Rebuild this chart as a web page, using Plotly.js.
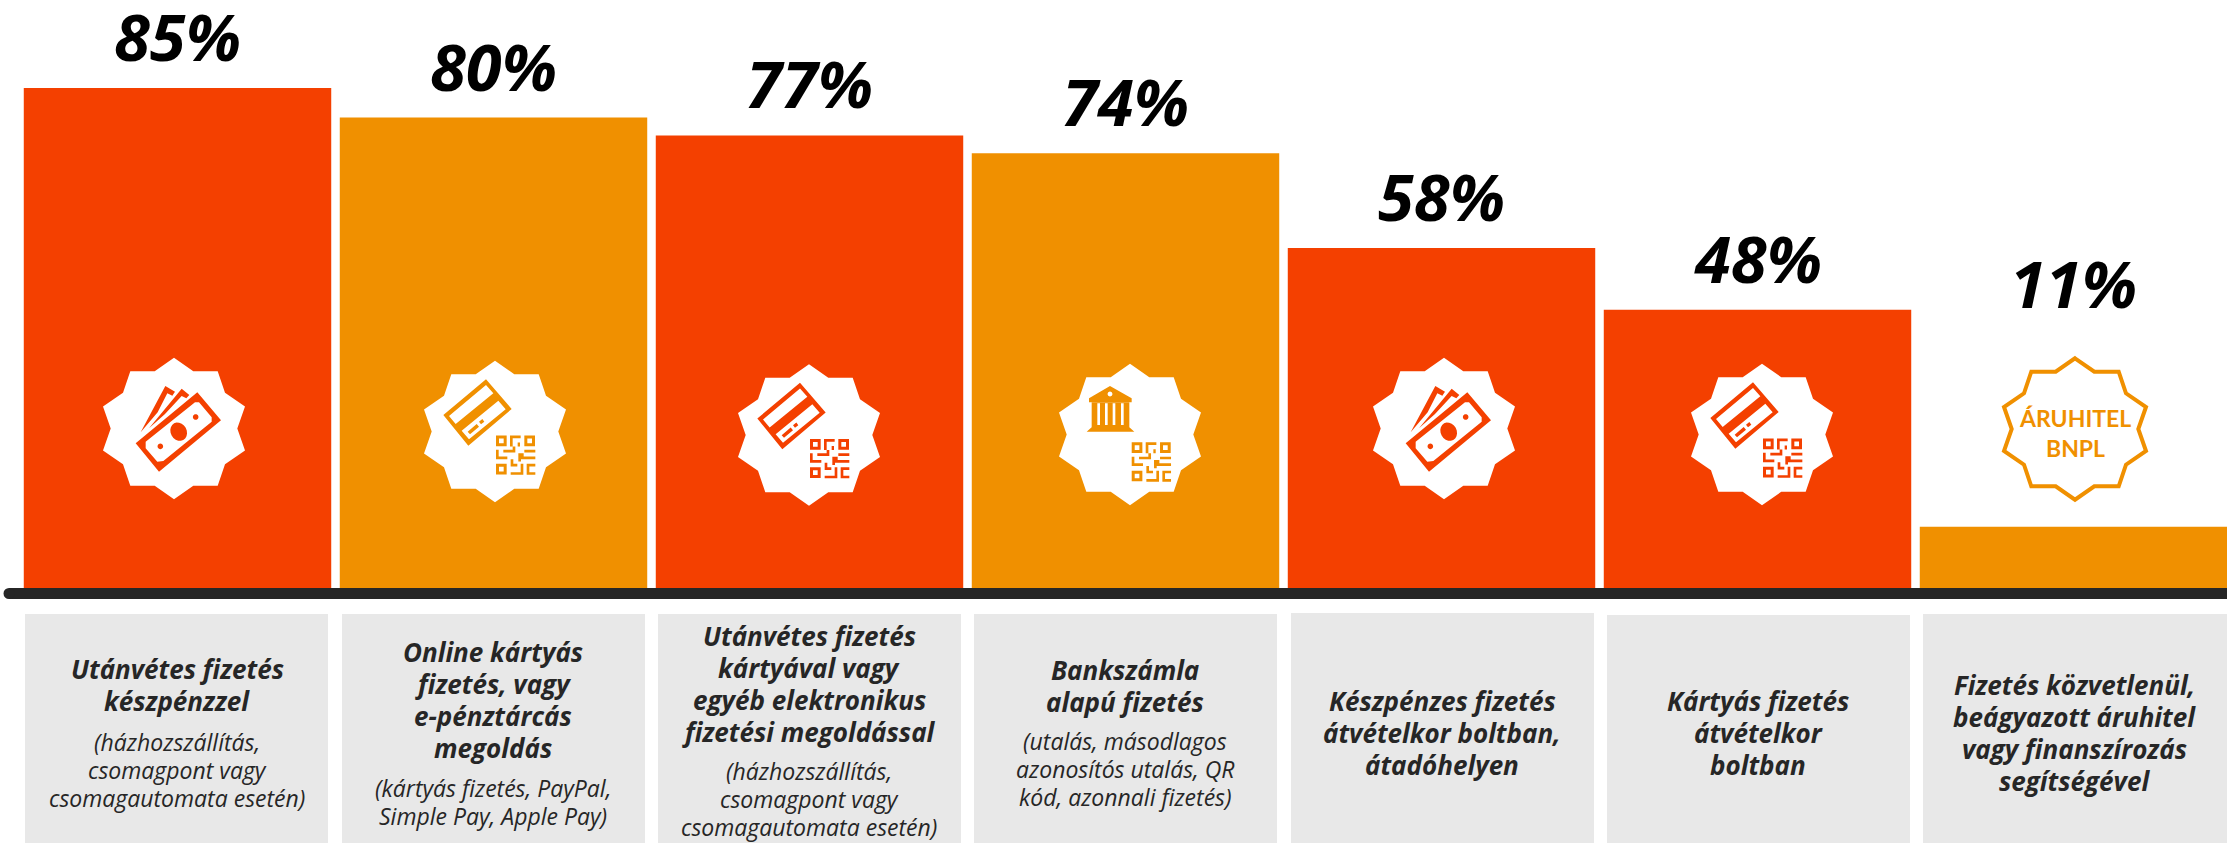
<!DOCTYPE html>
<html>
<head>
<meta charset="utf-8">
<script src="https://cdn.plot.ly/plotly-3.0.1.min.js"></script>
<style>html,body{margin:0;padding:0;background:#fff;overflow:hidden}</style>
</head>
<body>
<div id="chart" style="width:2227px;height:843px"></div>
<script>
// ---- data ----
const categories = ['Utánvétes készpénz','Online kártyás','Utánvétes kártyás','Bankszámla','Készpénzes boltban','Kártyás boltban','Áruhitel'];
const values = [85, 80, 77, 74, 58, 47.6, 11];
const valueLabels = ['85%','80%','77%','74%','58%','48%','11%'];
const mainLabels = [
  ['Utánvétes fizetés','készpénzzel'],
  ['Online kártyás','fizetés, vagy','e-pénztárcás','megoldás'],
  ['Utánvétes fizetés','kártyával vagy','egyéb elektronikus','fizetési megoldással'],
  ['Bankszámla','alapú fizetés'],
  ['Készpénzes fizetés','átvételkor boltban,','átadóhelyen'],
  ['Kártyás fizetés','átvételkor','boltban'],
  ['Fizetés közvetlenül,','beágyazott áruhitel','vagy finanszírozás','segítségével']
];
const subLabels = [
  ['(házhozszállítás,','csomagpont vagy','csomagautomata esetén)'],
  ['(kártyás fizetés, PayPal,','Simple Pay, Apple Pay)'],
  ['(házhozszállítás,','csomagpont vagy','csomagautomata esetén)'],
  ['(utalás, másodlagos','azonosítós utalás, QR','kód, azonnali fizetés)'],
  [], [], []
];
const barColors = ['#F44000','#F09000','#F44000','#F09000','#F44000','#F44000','#F09000'];
const badgeIcons = ['money','cardqr','cardqr','bankqr','money','cardqr','text'];
const badgeText = ['ÁRUHITEL','BNPL'];

// ---- layout constants (pixels) ----
const W = 2227, H = 843;
const zeroPx = 592, pxPerUnit = 5.93, firstCenter = 177.5, pitch = 316;
const mainY = [685, 700, 684, 685.5, 733, 733, 733];
const subY  = [770, 802, 799, 769, 0, 0, 0];
const mainPitch = 32, subPitch = 28;
const textX = [177, 493, 809, 1125, 1442, 1758, 2074];
const cardL = [25, 342, 658, 974, 1291, 1607, 1923];
const cardR = [328, 645, 961, 1277, 1594, 1910, 2227];
const cardT = [614, 614, 614, 614, 613, 615, 614];
const badgeX = [174, 495, 809, 1130, 1444, 1762, 2075];
const badgeY = [428.5, 431.5, 435, 434.5, 428.5, 434.5, 429];
const labelLift = [6, 6, 6, 6, 6, 6, 198];
const FONT = '"Open Sans", "Noto Sans", sans-serif';

const px = x => x / W, py = y => 1 - y / H;

// ---- icon geometry, in px relative to badge centre, y down ----
const star = [[0,-70.7],[19.3,-57.3],[43.7,-57.3],[51,-35.7],[71,-22],[63.3,0],[71,22],[51,35.7],[43.7,57.3],[19.3,57.3],[0,70.7],[-19.3,57.3],[-43.7,57.3],[-51,35.7],[-71,22],[-63.3,0],[-71,-22],[-51,-35.7],[-43.7,-57.3],[-19.3,-57.3]];
const poly = pts => 'M' + pts.map(p => p[0].toFixed(2) + ' ' + (-p[1]).toFixed(2)).join(' L') + ' Z ';
const rect = (x,y,w,h) => poly([[x,y],[x+w,y],[x+w,y+h],[x,y+h]]);
const ellipse = (cx,cy,rx,ry,rot=0) => {
  const pts=[]; for(let i=0;i<20;i++){const a=i/20*2*Math.PI,ex=rx*Math.cos(a),ey=ry*Math.sin(a);
    pts.push([cx+ex*Math.cos(rot)-ey*Math.sin(rot),cy+ex*Math.sin(rot)+ey*Math.cos(rot)]);}
  return poly(pts);
};
const z = (pts,ox,oy) => pts.map(p => [(p[0]-ox)/3,(p[1]-oy)/3]);

const moneyPath = (() => {
  const o=[147,160.5], Z=pts=>poly(z(pts,o[0],o[1]));
  return Z([[32,205],[217,52],[288,136],[102,290]]) +
    Z([[62,200],[210,82],[222,82],[260,127],[260,140],[115,258],[97,260],[62,220]]) +
    ellipse((161-o[0])/3,(170-o[1])/3,8,9.5,-0.5) +
    ellipse((212-o[0])/3,(126-o[1])/3,2.8,2.8) +
    ellipse((106-o[0])/3,(214-o[1])/3,2.8,2.8) +
    Z([[47,172],[121,33],[150,50],[142,62],[127,55],[98,112]]) +
    Z([[72,160],[170,41],[193,60],[184,70],[170,63],[120,117]]);
})();
const cardPath = (() => {
  const o=[1245,274.5], Z=pts=>poly(z(pts,o[0],o[1]));
  return Z([[1090,225],[1218,118],[1295,207],[1165,317]]) +
    Z([[1107,228],[1218,135],[1240,160],[1127,252]]) +
    Z([[1145,272],[1255,182],[1277,208],[1167,298]]) +
    Z([[1163,275],[1190,252],[1197,260],[1170,283]]) +
    Z([[1197,245],[1207,237],[1213,245],[1203,253]]);
})();
const qrFinders = (ox,oy) => [[0,0],[85,0],[0,85]].map(f =>
  rect(ox+f[0]/3,oy+f[1]/3,32/3,32/3)+rect(ox+(f[0]+9)/3,oy+(f[1]+9)/3,14/3,14/3)).join('');
const qrBits = (ox,oy) => [[42,0,32,8],[42,0,8,33],[65,21,7,12],[85,43,33,8],[0,43,8,28],[0,63,34,8],[22,43,36,8],[50,33,8,18],[67,53,8,25],[75,53,8,18],[75,63,43,8],[44,71,8,22],[44,85,20,8],[44,110,38,8],[74,85,8,33],[92,85,26,8],[92,85,8,33],[92,110,26,8]]
  .map(s=>rect(ox+s[0]/3,oy+s[1]/3,s[2]/3,s[3]/3)).join('');
const bankPath = (() => {
  const o=[270,283.5], Z=pts=>poly(z(pts,o[0],o[1]));
  return Z([[147,175],[210,138],[275,175],[275,187],[147,187]]) +
    ellipse((210-o[0])/3,(162-o[1])/3,2.4,2.4);
})();
const bankBody = (() => {
  const o=[270,283.5], Z=pts=>poly(z(pts,o[0],o[1]));
  return Z([[155,187],[268,187],[268,262],[283,275],[140,275],[155,262]]) +
    [172,195,218,243].map(x=>Z([[x,190],[x+8,190],[x+8,255],[x,255]])).join('');
})();

function iconShape(path,i,color,rule){
  return {type:'path',path,xref:'paper',yref:'paper',xsizemode:'pixel',ysizemode:'pixel',
    xanchor:px(badgeX[i]),yanchor:py(badgeY[i]),fillcolor:color,fillrule:rule||'evenodd',line:{width:0},layer:'above'};
}

// ---- shapes ----
const shapes = [];
categories.forEach((c,i)=>{
  shapes.push({type:'rect',xref:'paper',yref:'paper',x0:px(cardL[i]),x1:px(cardR[i]),y0:0,y1:py(cardT[i]),
    fillcolor:'#E8E8E8',line:{width:0},layer:'above'});
});
shapes.push({type:'rect',xref:'paper',yref:'paper',x0:px(9),x1:1,y0:py(599),y1:py(588),fillcolor:'#262626',line:{width:0},layer:'above'});
shapes.push({type:'circle',xref:'paper',yref:'paper',x0:px(3.5),x1:px(14.5),y0:py(599),y1:py(588),fillcolor:'#262626',line:{width:0},layer:'above'});

badgeIcons.forEach((kind,i)=>{
  const col = barColors[i];
  if(kind==='text'){
    shapes.push({type:'path',path:poly(star),xref:'paper',yref:'paper',xsizemode:'pixel',ysizemode:'pixel',
      xanchor:px(badgeX[i]),yanchor:py(badgeY[i]),fillcolor:'#FFFFFF',line:{color:col,width:4},layer:'above'});
    return;
  }
  shapes.push(iconShape(poly(star),i,'#FFFFFF'));
  if(kind==='money') shapes.push(iconShape(moneyPath,i,col));
  if(kind==='cardqr'){ shapes.push(iconShape(cardPath,i,col)); shapes.push(iconShape(qrFinders(1,4),i,col)); shapes.push(iconShape(qrBits(1,4),i,col,'nonzero')); }
  if(kind==='bankqr'){ shapes.push(iconShape(bankPath,i,col)); shapes.push(iconShape(bankBody,i,col)); shapes.push(iconShape(qrFinders(1.7,7.8),i,col)); shapes.push(iconShape(qrBits(1.7,7.8),i,col,'nonzero')); }
});

// ---- annotations ----
const annotations = [];
function addLines(lines,cy,linePitch,xpx,wrap,size,color,family){
  lines.forEach((t,j)=>{
    annotations.push({xref:'paper',yref:'paper',x:px(xpx),y:py(cy+(j-(lines.length-1)/2)*linePitch),
      xanchor:'center',yanchor:'middle',showarrow:false,align:'center',
      text:wrap[0]+t+wrap[1],font:{family:family||FONT,size,color}});
  });
}
categories.forEach((c,i)=>{
  annotations.push({xref:'x',yref:'y',x:i,y:values[i],xanchor:'center',yanchor:'bottom',yshift:labelLift[i],showarrow:false,
    text:'<b><i>'+valueLabels[i]+'</i></b>',font:{family:FONT,size:65,color:'#000'}});
  addLines(mainLabels[i],mainY[i],mainPitch,textX[i],['<b><i>','</i></b>'],26,'#262626');
  addLines(subLabels[i],subY[i],subPitch,textX[i],['<i>','</i>'],23,'#262626');
});
addLines(badgeText,433,30,2075,['<b>','</b>'],23,'#F09000','Lato, "Open Sans", sans-serif');

const trace = {type:'bar',x:categories,y:values,marker:{color:barColors,line:{width:0}},hoverinfo:'x+y'};
const layout = {
  width:W,height:H,margin:{l:0,r:0,t:0,b:0,pad:0},
  paper_bgcolor:'#fff',plot_bgcolor:'#fff',showlegend:false,bargap:0.027,
  xaxis:{type:'category',visible:false,range:[(0-firstCenter)/pitch,(W-firstCenter)/pitch],fixedrange:true},
  yaxis:{visible:false,range:[(zeroPx-H)/pxPerUnit,zeroPx/pxPerUnit],fixedrange:true},
  shapes,annotations
};
Plotly.newPlot('chart',[trace],layout,{displayModeBar:false,responsive:false});
</script>
</body>
</html>
